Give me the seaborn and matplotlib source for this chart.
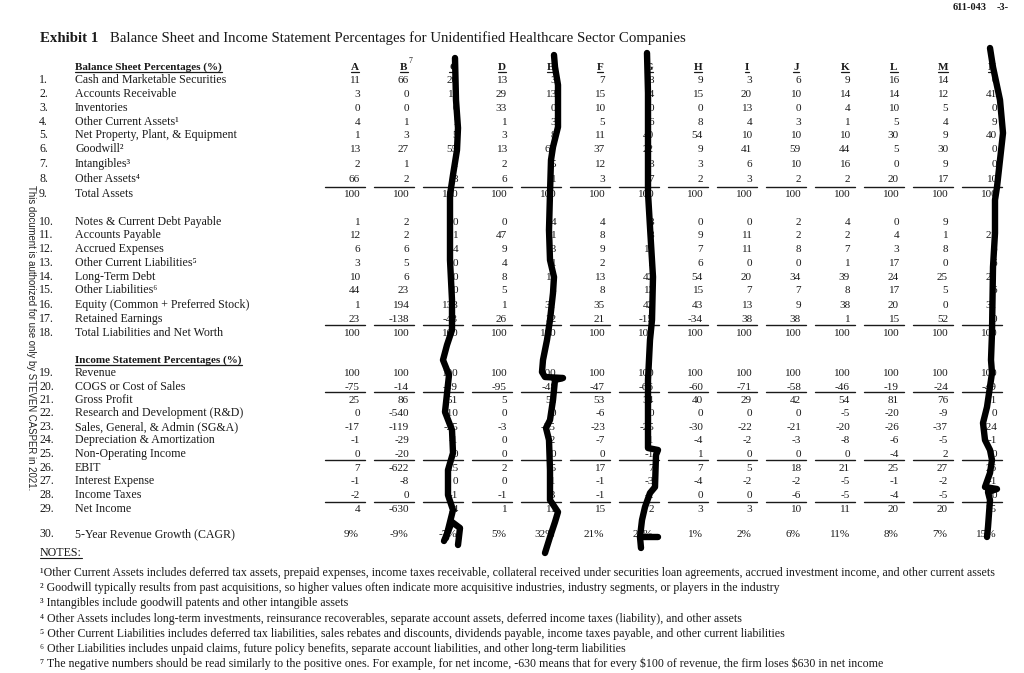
import matplotlib
matplotlib.use("Agg")
import matplotlib.pyplot as plt
import seaborn as sns
import pandas as pd

sns.set_theme(style="white")
plt.rcParams['font.family'] = ['Liberation Serif', 'DejaVu Serif']
plt.rcParams['text.parse_math'] = False

# ---------------- data ----------------
companies = ["A", "B", "C", "D", "E", "F", "G", "H", "I", "J", "K", "L", "M", "N"]
header_sup = {"B": "7"}

bs_labels = ["Cash and Marketable Securities", "Accounts Receivable", "Inventories",
             "Other Current Assets\u00b9", "Net Property, Plant, & Equipment", "Goodwill\u00b2",
             "Intangibles\u00b3", "Other Assets\u2074", "Total Assets"]
liab_labels = ["Notes & Current Debt Payable", "Accounts Payable", "Accrued Expenses",
               "Other Current Liabilities\u2075", "Long-Term Debt", "Other Liabilities\u2076",
               "Equity (Common + Preferred Stock)", "Retained Earnings",
               "Total Liabilities and Net Worth"]
inc_labels = ["Revenue", "COGS or Cost of Sales", "Gross Profit", "Research and Development (R&D)",
              "Sales, General, & Admin (SG&A)", "Depreciation & Amortization",
              "Non-Operating Income", "EBIT", "Interest Expense", "Income Taxes", "Net Income"]
cagr_label = "5-Year Revenue Growth (CAGR)"

assets = {
    "A": [11, 3, 0, 4, 1, 13, 2, 66, 100],
    "B": [66, 0, 0, 1, 3, 27, 1, 2, 100],
    "C": [20, 10, 0, 1, 5, 55, 1, 8, 100],
    "D": [13, 29, 33, 1, 3, 13, 2, 6, 100],
    "E": [3, 13, 0, 3, 8, 67, 5, 1, 100],
    "F": [7, 15, 10, 5, 11, 37, 12, 3, 100],
    "G": [8, 14, 0, 6, 40, 22, 3, 7, 100],
    "H": [9, 15, 0, 8, 54, 9, 3, 2, 100],
    "I": [3, 20, 13, 4, 10, 41, 6, 3, 100],
    "J": [6, 10, 0, 3, 10, 59, 10, 2, 100],
    "K": [9, 14, 4, 1, 10, 44, 16, 2, 100],
    "L": [16, 14, 10, 5, 30, 5, 0, 20, 100],
    "M": [14, 12, 5, 4, 9, 30, 9, 17, 100],
    "N": [0, 41, 0, 9, 40, 0, 0, 10, 100],
}
liabilities = {
    "A": [1, 12, 6, 3, 10, 44, 1, 23, 100],
    "B": [2, 2, 6, 5, 6, 23, 194, -138, 100],
    "C": [0, 1, 4, 0, 0, 0, 138, -43, 100],
    "D": [0, 47, 9, 4, 8, 5, 1, 26, 100],
    "E": [4, 1, 13, 1, 15, 3, 31, 32, 100],
    "F": [4, 8, 9, 2, 13, 8, 35, 21, 100],
    "G": [3, 3, 10, 2, 42, 13, 42, -15, 100],
    "H": [0, 9, 7, 6, 54, 15, 43, -34, 100],
    "I": [0, 11, 11, 0, 20, 7, 13, 38, 100],
    "J": [2, 2, 8, 0, 34, 7, 9, 38, 100],
    "K": [4, 2, 7, 1, 39, 8, 38, 1, 100],
    "L": [0, 4, 3, 17, 24, 17, 20, 15, 100],
    "M": [9, 1, 8, 0, 25, 5, 0, 52, 100],
    "N": [9, 21, 6, 6, 21, 6, 31, 0, 100],
}
income = {
    "A": [100, -75, 25, 0, -17, -1, 0, 7, -1, -2, 4],
    "B": [100, -14, 86, -540, -119, -29, -20, -622, -8, 0, -630],
    "C": [100, -49, 51, -10, -25, -1, 0, 15, 0, -1, 14],
    "D": [100, -95, 5, 0, -3, 0, 0, 2, 0, -1, 1],
    "E": [100, -48, 52, 0, -35, -2, 0, 15, -1, -3, 11],
    "F": [100, -47, 53, -6, -23, -7, 0, 17, -1, -1, 15],
    "G": [100, -66, 34, 0, -25, -1, -1, 7, -3, -2, 2],
    "H": [100, -60, 40, 0, -30, -4, 1, 7, -4, 0, 3],
    "I": [100, -71, 29, 0, -22, -2, 0, 5, -2, 0, 3],
    "J": [100, -58, 42, 0, -21, -3, 0, 18, -2, -6, 10],
    "K": [100, -46, 54, -5, -20, -8, 0, 21, -5, -5, 11],
    "L": [100, -19, 81, -20, -26, -6, -4, 25, -1, -4, 20],
    "M": [100, -24, 76, -9, -37, -5, 2, 27, -2, -5, 20],
    "N": [100, -49, 51, 0, -24, -1, 0, 26, -1, 0, 25],
}
cagr = ["9%", "-9%", "-7%", "5%", "32%", "21%", "24%", "1%", "2%", "6%", "11%", "8%", "7%", "15%"]

notes = [
    "\u00b9Other Current Assets includes deferred tax assets, prepaid expenses, income taxes receivable, collateral received under securities loan agreements, accrued investment income, and other current assets",
    "\u00b2 Goodwill typically results from past acquisitions, so higher values often indicate more acquisitive industries, industry segments, or players in the industry",
    "\u00b3 Intangibles include goodwill patents and other intangible assets",
    "\u2074 Other Assets includes long-term investments, reinsurance recoverables, separate account assets, deferred income taxes (liability), and other assets",
    "\u2075 Other Current Liabilities includes deferred tax liabilities, sales rebates and discounts, dividends payable, income taxes payable, and other current liabilities",
    "\u2076 Other Liabilities includes unpaid claims, future policy benefits, separate account liabilities, and other long-term liabilities",
    "\u2077 The negative numbers should be read similarly to the positive ones. For example, for net income, -630 means that for every $100 of revenue, the firm loses $630 in net income",
]

# ---------------- layout (pixel coordinates) ----------------
W, H = 1024, 673
fig = plt.figure(figsize=(W / 100, H / 100), dpi=100)
ax = fig.add_axes([0, 0, 1, 1])
ax.set_xlim(0, W)
ax.set_ylim(H, 0)
ax.axis("off")

TXT = "#1a1a1a"
FS = 8.6
FS_NUM = 8.1
FS_HEAD = 8.0
BL = 3.8  # baseline offset below visual row centre
col_right = {c: 360 + 49 * i for i, c in enumerate(companies)}
num_x, lab_x = 39, 75

bs_y = [79.5, 93.5, 107, 121, 134.5, 148.5, 163, 178, 193]
li_y = [221, 234.5, 248, 262, 276, 289.5, 304.5, 318, 332]
in_y = [372, 386, 399.5, 412, 426, 439.5, 453, 467, 480, 494, 508]
cagr_y = 533
lines_y = [186.5, 324.5, 392, 459.5, 501.5]

renderer = fig.canvas.get_renderer()


def underline_baseline(t, y_base, off=1.8, lw=0.9):
    bb = t.get_window_extent(renderer=renderer)
    ax.plot([bb.x0, bb.x1], [y_base + off, y_base + off], color=TXT, lw=lw)


def put(x, yc, s, fs, ha="left", **kw):
    return ax.text(x, yc + BL, s, fontsize=fs, ha=ha, va="baseline", color=TXT, **kw)


# top right page id
ax.text(987, 8, "611-043", fontsize=7.5, fontweight="bold", ha="right", va="center", color=TXT)
ax.text(997, 8, "-3-", fontsize=7.5, fontweight="bold", ha="left", va="center", color=TXT)

# title
put(40, 38, "Exhibit 1", 10.7, fontweight="bold")
put(110, 38, "Balance Sheet and Income Statement Percentages for Unidentified Healthcare Sector Companies", 10.7)

# section headers
t = ax.text(lab_x, 70, "Balance Sheet Percentages (%)", fontsize=FS_HEAD, fontweight="bold",
            ha="left", va="baseline", color=TXT)
underline_baseline(t, 70)
t = ax.text(lab_x, 363, "Income Statement Percentages (%)", fontsize=FS_HEAD, fontweight="bold",
            ha="left", va="baseline", color=TXT)
underline_baseline(t, 363)

# company headers
for c in companies:
    t = ax.text(col_right[c] - 5, 70, c, fontsize=FS_HEAD, fontweight="bold", ha="center",
                va="baseline", color=TXT)
    underline_baseline(t, 70)
    if c in header_sup:
        bb = t.get_window_extent(renderer=renderer)
        ax.text(bb.x1 + 0.5, 61, header_sup[c], fontsize=5.5, ha="left", va="center", color=TXT)

# row labels and numbers
row_no = 1
for labels, ys in ((bs_labels, bs_y), (liab_labels, li_y), (inc_labels, in_y)):
    for lab, y in zip(labels, ys):
        put(num_x, y, f"{row_no}.", FS)
        put(lab_x, y, lab, FS)
        row_no += 1
put(num_x, cagr_y, f"{row_no}.", FS)
put(lab_x, cagr_y, cagr_label, FS)

# values
for c in companies:
    xr = col_right[c]
    for block, ys in ((assets, bs_y), (liabilities, li_y), (income, in_y)):
        for v, y in zip(block[c], ys):
            put(xr, y, str(v), FS_NUM, ha="right")
    put(xr - 1, cagr_y, cagr[companies.index(c)], FS_NUM, ha="right")
    for ly in lines_y:
        ax.plot([xr - 35, xr + 5], [ly, ly], color=TXT, lw=1.0)

# notes
t = ax.text(40, 556, "NOTES:", fontsize=FS, ha="left", va="baseline", color=TXT)
underline_baseline(t, 556, off=1.5, lw=0.8)
notes_y = [572, 587, 602, 618, 633, 648, 663]
for n, y in zip(notes, notes_y):
    put(40, y, n, FS)

# side watermark
ax.text(31, 338, "This document is authorized for use only by STEVEN CASPER in 2021.",
        fontsize=6.9, family="Liberation Sans", rotation=-90, ha="center", va="center", color="#222222")

# hand-drawn redaction strokes over four columns
strokes = {
    "C": [(455, 58), (456, 100), (458, 128), (457, 150), (453, 175), (450, 195), (450, 260), (452, 300),
          (452, 330), (447, 345), (443, 360), (449, 375), (445, 412), (452, 430), (453, 453), (448, 470),
          (448, 495), (453, 510), (450, 522), (446, 538)],
    "C2": [(444, 541), (452, 522), (460, 528), (458, 545)],
    "E": [(554, 55), (555, 67), (558, 85), (558, 127), (553, 147), (551, 160), (550, 193), (549, 230),
          (550, 260), (554, 277), (553, 293), (550, 320), (547, 340), (543, 360), (542, 372), (545, 377),
          (563, 378), (555, 380), (553, 400), (550, 420), (546, 428), (549, 440), (550, 470), (550, 500),
          (558, 512), (555, 522), (550, 537), (545, 553)],
    "G": [(647, 53), (648, 93), (648, 193), (650, 227), (653, 277), (652, 320), (650, 340), (648, 380),
          (648, 448), (658, 450), (656, 455), (655, 487), (650, 493), (645, 507), (642, 520), (640, 537),
          (641, 548)],
    "G2": [(640, 537), (658, 537)],
    "N": [(990, 48), (993, 67), (1000, 100), (1003, 133), (1000, 160), (997, 187), (995, 200), (995, 233),
          (993, 267), (992, 333), (991, 360), (992, 373), (987, 407), (983, 423), (985, 440), (990, 450),
          (992, 460), (990, 473), (985, 487), (997, 489), (988, 492), (990, 500), (988, 527), (987, 537)],
}
for name, pts in strokes.items():
    df = pd.DataFrame(pts, columns=["x", "y"])
    sns.lineplot(data=df, x="x", y="y", sort=False, estimator=None, color="black",
                 lw=4.6, ax=ax, legend=False, solid_capstyle="round", solid_joinstyle="round", zorder=5)

ax.set_xlim(0, W)
ax.set_ylim(H, 0)
ax.axis("off")
fig.savefig("out.png", dpi=100, facecolor="white")
